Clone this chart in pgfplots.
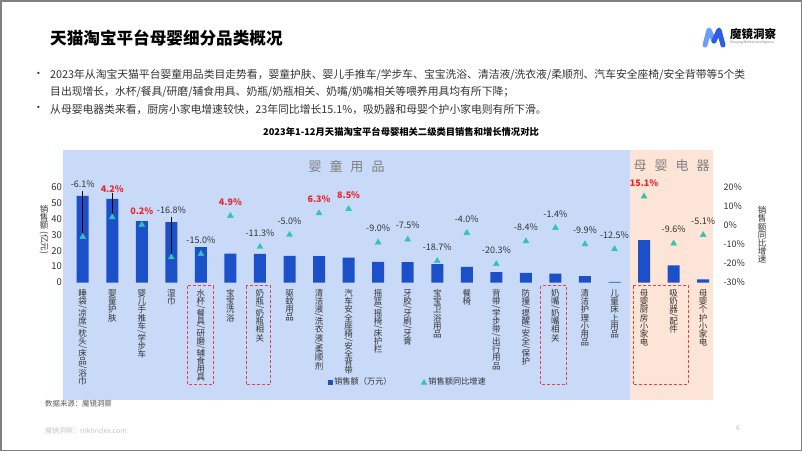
\documentclass[border=0pt]{standalone}
\usepackage{fontspec}
\setmainfont{Noto Sans CJK SC}
\usepackage{graphicx}
\usepackage{pgfplots}
\pgfplotsset{compat=1.18}

\definecolor{bgblue}{HTML}{C8DAF8}
\definecolor{bgorange}{HTML}{FCE4D6}
\definecolor{barblue}{HTML}{1C50C8}
\definecolor{tri}{HTML}{31C4B4}
\definecolor{redlab}{HTML}{E8262B}
\definecolor{txt}{HTML}{333333}
\definecolor{boxred}{HTML}{E5424D}
\definecolor{secgray}{HTML}{7F7F7F}

% stacked vertical text, one glyph per row; slashes turned and packed tight
\makeatletter
\newcommand\vt[1]{\vbox{\offinterlineskip\vt@#1\@nil}}
\def\vt@#1{\ifx\@nil#1\else\vt@c#1\expandafter\vt@\fi}
\def\vt@c#1{\if/#1\vbox to 3.6pt{\vss\hbox to 9pt{\hss\rotatebox{-90}{/}\hss}\vss}%
  \else\vbox to 8.2pt{\vss\hbox to 9pt{\hss#1\hss}\vss}\fi}
\makeatother

\begin{document}
\begin{tikzpicture}
\begin{scope}[x=1pt,y=-1pt]
  \fill[white] (0,0) rectangle (802,451);
  \fill[bgblue] (63,150) rectangle (630,400);
  \fill[bgorange] (630,150) rectangle (713,400);
\end{scope}

% sales (left axis)
\begin{axis}[
    at={(63pt,-400pt)}, anchor=south west,
    width=650pt, height=250pt, scale only axis,
    xmin=-0.667, xmax=21.333, ymin=-73.82, ymax=83.24,
    axis lines*=left, axis line style={draw=none},
    major tick length=0pt,
    xtick={0,...,21},
    xticklabels={{\vt{睡袋/凉席/枕头/床品/浴巾}},{\vt{婴童护肤}},{\vt{婴儿手推车/学步车}},{\vt{湿巾}},
      {\vt{水杯/餐具/研磨/辅食用具}},{\vt{宝宝洗浴}},{\vt{奶瓶/奶瓶相关}},{\vt{驱蚊用品}},
      {\vt{清洁液/洗衣液/柔顺剂}},{\vt{汽车安全座椅/安全背带}},{\vt{摇篮/摇椅/床护栏}},{\vt{牙胶/牙刷/牙膏}},
      {\vt{宝宝卫浴用品}},{\vt{餐椅}},{\vt{背带/学步带/出行用品}},{\vt{防撞/提醒/安全/保护}},
      {\vt{奶嘴/奶嘴相关}},{\vt{清洁护理小用品}},{\vt{儿童床上用品}},{\vt{母婴厨房小家电}},
      {\vt{吸奶器/配件}},{\vt{母婴个护小家电}}},
    xticklabel style={anchor=north, inner sep=0pt, yshift=111pt,
      font=\fontsize{8.5}{8.5}\selectfont, text=txt},
    ytick={0,10,...,60},
    yticklabel style={font=\fontsize{9.5}{10}\selectfont, text=txt, xshift=2.5pt},
    /pgf/number format/assume math mode=true,
    ybar, bar width=12pt,
    clip=false,
    legend style={at={(0.407,0.072)}, anchor=west, draw=none, fill=none,
      inner sep=0pt, font=\fontsize{8.2}{9}\selectfont, text=txt,
      nodes={inner sep=1.5pt},
      /tikz/every even column/.append style={column sep=28pt}},
    legend columns=2,
]
\addplot[fill=barblue, draw=none,
  legend image code/.code={\fill[barblue] (0pt,-2.5pt) rectangle (5pt,2.5pt);}]
  coordinates {
  (0,54.4) (1,52.5) (2,38.5) (3,37.9) (4,22.3) (5,18.2) (6,18.0) (7,16.7)
  (8,16.5) (9,15.7) (10,12.9) (11,12.8) (12,11.5) (13,9.8) (14,6.5) (15,6.0)
  (16,5.6) (17,4.0) (18,0.4) (19,26.6) (20,10.7) (21,1.9)
};
\addlegendentry{销售额（万元）}
\addlegendimage{legend image code/.code={\fill[tri] (0pt,-2.3pt) -- (5.4pt,-2.3pt) -- (2.7pt,2.5pt) -- cycle;}}
\addlegendentry{销售额同比增速}
\end{axis}

% growth (right axis)
\begin{axis}[
    at={(63pt,-400pt)}, anchor=south west,
    width=650pt, height=250pt, scale only axis,
    xmin=-0.667, xmax=21.333, ymin=-91.52, ymax=39.37,
    axis y line*=right, axis x line=none, axis line style={draw=none},
    major tick length=0pt,
    ytick={-30,-20,...,20},
    yticklabel={\pgfmathprintnumber{\tick}\%},
    yticklabel style={font=\fontsize{9}{10}\selectfont, text=txt, xshift=7pt},
    /pgf/number format/assume math mode=true,
    clip=false,
]
% leader lines from the moved labels down to their markers
\addplot[draw=none, mark=none, forget plot,
  error bars/.cd, y dir=plus, y explicit, error mark=none,
  error bar style={draw=black, line width=0.5pt}]
  coordinates {(0,-6.1) +- (0,23.8) (1,4.2) +- (0,12.8) (3,-16.8) +- (0,21.2)};
\addplot[only marks, mark=triangle*, mark size=3.4pt, color=tri]
  coordinates {
  (0,-6.1) (1,4.2) (2,0.2) (3,-16.8) (4,-15.0) (5,4.9) (6,-11.3) (7,-5.0)
  (8,6.3) (9,8.5) (10,-9.0) (11,-7.5) (12,-18.7) (13,-4.0) (14,-20.3) (15,-8.4)
  (16,-1.4) (17,-9.9) (18,-12.5) (19,15.1) (20,-9.6) (21,-5.1)
};
% growth labels: positive in red bold, negative in black
\addplot[draw=none, mark=none, nodes near coords, point meta=explicit symbolic,
  every node near coord/.style={anchor=center, inner sep=0pt,
    font=\bfseries\fontsize{9}{9}\selectfont, text=redlab}]
  coordinates {(1,19.1)[4.2\%] (2,7.5)[0.2\%] (5,12.2)[4.9\%] (8,13.6)[6.3\%]
  (9,15.8)[8.5\%] (19,22.1)[15.1\%]};
\addplot[draw=none, mark=none, nodes near coords, point meta=explicit symbolic,
  every node near coord/.style={anchor=center, inner sep=0pt,
    font=\fontsize{9}{9}\selectfont, text=txt}]
  coordinates {(0,21.7)[-6.1\%] (3,7.6)[-16.8\%] (4,-7.7)[-15.0\%] (6,-4.0)[-11.3\%]
  (7,2.3)[-5.0\%] (10,-1.7)[-9.0\%] (11,-0.2)[-7.5\%] (12,-11.4)[-18.7\%]
  (13,3.3)[-4.0\%] (14,-13.0)[-20.3\%] (15,-1.1)[-8.4\%] (16,5.7)[-1.4\%]
  (17,-2.6)[-9.9\%] (18,-5.2)[-12.5\%] (20,-2.3)[-9.6\%] (21,2.2)[-5.1\%]};
\end{axis}

\begin{scope}[x=1pt,y=-1pt]
  % header
  \node[anchor=west, inner sep=0pt, font=\bfseries\fontsize{16.6}{18}\selectfont]
    at (50,38) {天猫淘宝平台母婴细分品类概况};
  \begin{scope}[every node/.style={anchor=west, inner sep=0pt,
      font=\fontsize{10.8}{12}\selectfont, text=txt}]
    \node at (33,75) {•};
    \node at (50,75) {2023年从淘宝天猫平台婴童用品类目走势看，婴童护肤、婴儿手推车/学步车、宝宝洗浴、清洁液/洗衣液/柔顺剂、汽车安全座椅/安全背带等5个类};
    \node at (50,92) {目出现增长，水杯/餐具/研磨/辅食用具、奶瓶/奶瓶相关、奶嘴/奶嘴相关等喂养用具均有所下降；};
    \node at (33,109) {•};
    \node at (50,109) {从母婴电器类来看，厨房小家电增速较快，23年同比增长15.1\%，吸奶器和母婴个护小家电则有所下滑。};
  \end{scope}
  % logo
  \draw[line width=5pt, line cap=round, line join=round, color={rgb,255:red,110;green,158;blue,252}]
    (705,45) -- (709,30) -- (714,41);
  \draw[line width=5pt, line cap=round, line join=round, color={rgb,255:red,45;green,92;blue,232}]
    (714,41) -- (719,30) -- (723,45);
  \node[anchor=west, inner sep=0pt, font=\bfseries\fontsize{11.5}{12}\selectfont] at (730,34) {魔镜洞察};
  \node[anchor=west, inner sep=0pt, font=\fontsize{3.4}{4}\selectfont, text=gray] at (730,43) {Moojing Market Intelligence};
  % chart title and section names
  \node[font=\bfseries\fontsize{9.3}{10}\selectfont] at (401,132)
    {2023年1-12月天猫淘宝平台母婴相关二级类目销售和增长情况对比};
  \node[font=\fontsize{13}{13}\selectfont, text=secgray] at (346.5,167)
    {婴\hspace{8pt}童\hspace{8pt}用\hspace{8pt}品};
  \node[font=\fontsize{13}{13}\selectfont, text=secgray] at (671.5,166)
    {母\hspace{8pt}婴\hspace{8pt}电\hspace{8pt}器};
  % axis titles
  \node[inner sep=0pt, font=\fontsize{8.5}{8.5}\selectfont, text=txt] at (44,217.3) {\vt{销售额}};
  \node[inner sep=0pt, rotate=-90, font=\fontsize{8.5}{8.5}\selectfont, text=txt] at (44,242.5) {(亿元)};
  \node[inner sep=0pt, font=\fontsize{8.5}{8.5}\selectfont, text=txt] at (762,235) {\vt{销售额同比增速}};
  % highlight boxes
  \begin{scope}[draw=boxred, line width=0.8pt, dash pattern=on 3pt off 2pt]
    \draw (187.7,285.7) rectangle (213.3,384.3);
    \draw (246,285.7) rectangle (270.7,384.3);
    \draw (540.7,285.5) rectangle (566.7,384.5);
    \draw (633.3,285.5) rectangle (688,384.5);
  \end{scope}
  % footer
  \node[anchor=west, inner sep=0pt, font=\fontsize{7.4}{8}\selectfont, text={rgb,255:red,89;green,89;blue,89}]
    at (45,404) {数据来源：魔镜洞察};
  \node[anchor=west, inner sep=0pt, font=\fontsize{7}{8}\selectfont, text={rgb,255:red,200;green,200;blue,200}]
    at (45,431) {魔镜洞察：mktindex.com};
  \node[inner sep=0pt, font=\fontsize{7}{8}\selectfont, text={rgb,255:red,190;green,190;blue,190}]
    at (738,428) {6};
  \draw[color={rgb,255:red,128;green,128;blue,128}, line width=1.5pt] (0.75,0.75) rectangle (801.25,450.25);
\end{scope}
\pgfresetboundingbox
\path[use as bounding box] (0pt,0pt) rectangle (802pt,-451pt);
\end{tikzpicture}
\end{document}
